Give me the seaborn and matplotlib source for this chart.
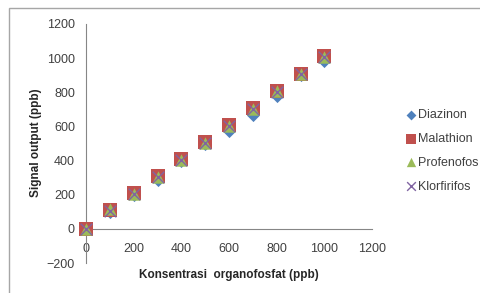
import pandas as pd
import matplotlib.pyplot as plt
import seaborn as sns
from matplotlib.patches import Rectangle

# data
konsentrasi = [0, 100, 200, 300, 400, 500, 600, 700, 800, 900, 1000]
diazinon = [0, 100, 200, 285, 400, 500, 575, 665, 780, 900, 985]
malathion = [0, 110, 210, 310, 410, 510, 610, 710, 810, 910, 1010]
profenofos = [0, 115, 205, 305, 405, 505, 605, 705, 805, 905, 1005]
klorfirifos = [0, 105, 205, 305, 405, 505, 600, 700, 800, 905, 1005]

series = {
    'Diazinon': diazinon,
    'Malathion': malathion,
    'Profenofos': profenofos,
    'Klorfirifos': klorfirifos,
}
styles = {
    'Diazinon': dict(marker='D', color='#4F81BD', s=45),
    'Malathion': dict(marker='s', color='#C0504D', s=110),
    'Profenofos': dict(marker='^', color='#9BBB59', s=80),
    'Klorfirifos': dict(marker='x', color='#8064A2', s=70),
}

sns.set_theme(style="white")
plt.rcParams['font.family'] = ['Liberation Sans', 'DejaVu Sans']

fig = plt.figure(figsize=(4.81, 2.93), dpi=100)
ax = fig.add_axes([86 / 481, 30 / 293, 286 / 481, 239 / 293])

# chart area frame
fig.patches.append(Rectangle((9 / 481, -0.1), 1.1, (293 - 8) / 293 + 0.1,
                             transform=fig.transFigure, fill=False,
                             edgecolor='#a6a6a6', lw=1.0))

for name, vals in series.items():
    st = styles[name]
    df = pd.DataFrame({'x': konsentrasi, 'y': vals})
    kw = dict(linewidth=1.0) if st['marker'] == 'x' else dict(linewidth=0)
    sns.scatterplot(data=df, x='x', y='y', ax=ax, marker=st['marker'],
                    color=st['color'], s=st['s'], label=name, clip_on=False,
                    zorder=3, **kw)

ax.set_xlim(0, 1200)
ax.set_ylim(-200, 1200)
ax.set_xticks(range(0, 1201, 200))
ax.set_yticks(range(-200, 1201, 200))

for side in ['top', 'right']:
    ax.spines[side].set_visible(False)
ax.spines['bottom'].set_position(('data', 0))
for side in ['left', 'bottom']:
    ax.spines[side].set_color('#868686')
    ax.spines[side].set_linewidth(0.8)
ax.tick_params(axis='both', which='both', direction='out', length=4,
               width=0.8, color='#868686', labelsize=9, labelcolor='#404040')
ax.tick_params(axis='x', pad=6)
ax.tick_params(axis='y', pad=4)

ax.set_xlabel("")
ax.set_ylabel("")
fig.text(229 / 481, 1 - 275 / 293, "Konsentrasi  organofosfat (ppb)",
         ha='center', va='center', fontsize=8.5, fontweight='bold', color='#262626')
fig.text(36 / 481, 1 - 143 / 293, "Signal output (ppb)", rotation=90,
         ha='center', va='center', fontsize=8.5, fontweight='bold', color='#262626')

leg = ax.legend(loc='upper left', bbox_to_anchor=(400 / 481, 1 - 104 / 293),
                bbox_transform=fig.transFigure, frameon=False, fontsize=9,
                handletextpad=0.05, handlelength=1.0, labelspacing=0.95,
                borderaxespad=0, markerscale=0.75)
for t in leg.get_texts():
    t.set_color('#404040')

fig.savefig("out.png", dpi=100)
